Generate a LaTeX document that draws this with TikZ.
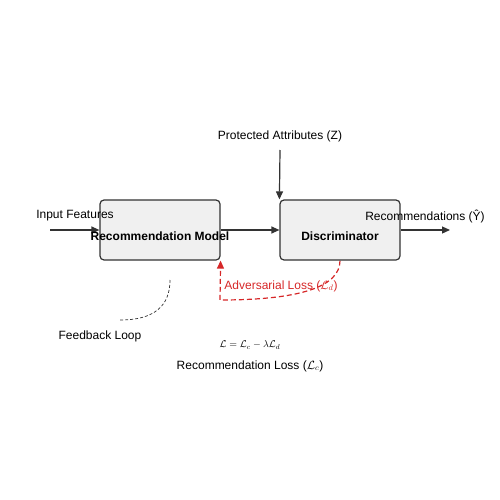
\documentclass[tikz,border=0pt]{standalone}
\usepackage{fontspec}
\setmainfont{Liberation Sans}
\usetikzlibrary{arrows.meta}
\pgfdeclarelayer{edgelayer}
\pgfdeclarelayer{nodelayer}
\pgfsetlayers{edgelayer,nodelayer,main}
\definecolor{boxfill}{HTML}{F0F0F0}
\definecolor{boxline}{HTML}{333333}
\definecolor{advred}{HTML}{D62728}
\tikzstyle{block}=[rectangle,rounded corners=4pt,fill=boxfill,draw=boxline,line width=1.2pt,minimum width=120pt,minimum height=60pt,inner sep=0pt]
\tikzstyle{label}=[font=\fontsize{12}{14}\selectfont,inner sep=0pt]
\tikzstyle{flow}=[-{Triangle[length=8pt,width=7pt]},draw=boxline,line width=1.2pt]
\tikzstyle{adv}=[-{Triangle[length=8pt,width=7pt]},draw=advred,line width=1.2pt,dash pattern=on 5pt off 3pt]
\tikzstyle{loop}=[draw=boxline,line width=0.7pt,dash pattern=on 3pt off 2pt]

\begin{document}
\begin{tikzpicture}[x=1pt,y=-1pt]
	\useasboundingbox (0,0) rectangle (500,500);
	\begin{pgfonlayer}{nodelayer}
		\node [style=block] (1) at (160, 230) {};
		\node [style=block] (2) at (340, 230) {};
		\node [style=label, font=\fontsize{12}{14}\selectfont\bfseries] (3) at (160, 236) {Recommendation Model};
		\node [style=label, font=\fontsize{12}{14}\selectfont\bfseries] (4) at (340, 236) {Discriminator};
		\node [style=label] (5) at (75, 216) {Input Features};
		\node [style=label] (6) at (425, 216) {Recommendations (Ŷ)};
		\node [style=label] (7) at (280, 136) {Protected Attributes (Z)};
		\node [style=label, text=advred] (8) at (281, 286) {Adversarial Loss ($\mathcal{L}_d$)};
		\node [style=label] (9) at (100, 336) {Feedback Loop};
		\node [style=label, font=\fontsize{10}{12}\selectfont] (10) at (250, 345) {$\mathcal{L} = \mathcal{L}_c - \lambda\mathcal{L}_d$};
		\node [style=label] (11) at (250, 366) {Recommendation Loss ($\mathcal{L}_c$)};
		\coordinate (12) at (50, 230);
		\coordinate (13) at (450, 230);
		\coordinate (14) at (280, 150);
		\coordinate (15) at (170, 280);
		\coordinate (16) at (120, 320);
	\end{pgfonlayer}
	\begin{pgfonlayer}{edgelayer}
		\draw [style=flow] (12) to (1.west);
		\draw [style=flow] (1.east) to (2.west);
		\draw [style=flow] (2.east) to (13);
		\draw [style=flow] (14) to (2.north west);
		\draw [style=adv] (2.south) .. controls (340, 286.7) and (300, 300) .. (220, 300) -- (1.south east);
		\draw [style=loop] (15) .. controls (170, 306.7) and (153.3, 320) .. (16);
	\end{pgfonlayer}
\end{tikzpicture}
\end{document}
